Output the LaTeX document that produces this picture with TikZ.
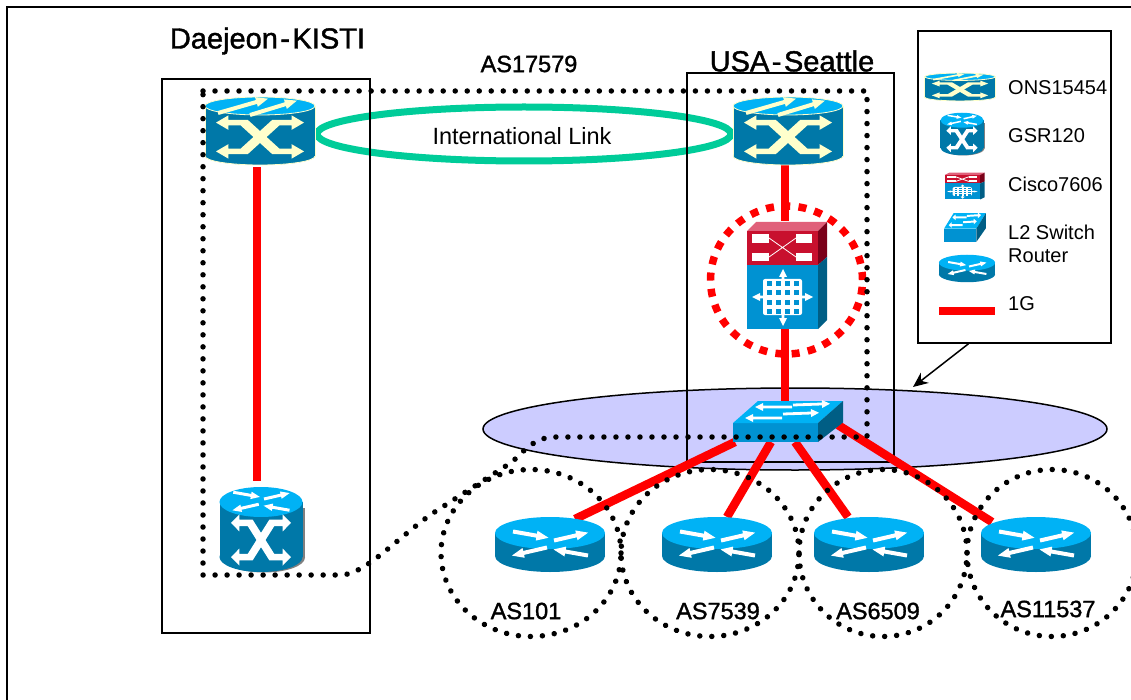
\documentclass[tikz,border=0pt]{standalone}
\usepackage{fontspec}
\setmainfont{Liberation Sans}
\newfontfamily\heavyfont[BoldFont=Liberation Sans, BoldFeatures={FakeBold=1.4}]{Liberation Sans}
\usepackage{tikz}
\usetikzlibrary{shapes.geometric, arrows.meta}

\definecolor{toplight}{HTML}{00B2F5}
\definecolor{bodydark}{HTML}{0078A8}
\definecolor{frontblue}{HTML}{0092D2}
\definecolor{sideblue}{HTML}{005E85}
\definecolor{cream}{HTML}{FFFFCC}
\definecolor{linkgreen}{HTML}{00CC99}
\definecolor{lanfill}{HTML}{CCCCFF}
\definecolor{ciscored}{HTML}{C8102E}
\definecolor{ciscotop}{HTML}{E0607A}
\definecolor{ciscoside}{HTML}{7A0019}

% tail x,y / angle / length / colour
\newcommand{\iconarrow}[4]{\fill[#4, shift={(#1)}, rotate=#2] (0,-1.4) -- ({#3-8},-1.4) -- ({#3-8},-4) -- (#3,0) -- ({#3-8},4) -- ({#3-8},1.4) -- (0,1.4) -- cycle;}
\newcommand{\widearrow}[4]{\fill[#4, shift={(#1)}, rotate=#2] (0,-2) -- ({#3-12},-2) -- ({#3-12},-5) -- (#3,0) -- ({#3-12},5) -- ({#3-12},2) -- (0,2) -- cycle;}
\newcommand{\xstroke}[1]{\fill[#1] (-50,-18) -- (-36,-27) -- (-36,-21.5) -- (-14,-21.5) -- (22,14.5) -- (36,14.5) -- (36,9) -- (50,18) -- (36,27) -- (36,21.5) -- (14,21.5) -- (-22,-14.5) -- (-36,-14.5) -- (-36,-9) -- cycle;}
\newcommand{\xglyph}[1]{\xstroke{#1} \begin{scope}[yscale=-1] \xstroke{#1} \end{scope}}
\newcommand{\toparrows}{
    \widearrow{-37,-13}{-10}{36}{white}
    \widearrow{4,-4}{13}{35}{white}
    \widearrow{-3,3}{193}{36}{white}
    \widearrow{38,11}{170}{35}{white}
}
\newcommand{\gridrow}[1]{
    \fill[frontblue] (-16,#1) rectangle (-11,{#1+5});
    \fill[frontblue] (-7,#1) rectangle (-2,{#1+5});
    \fill[frontblue] (2,#1) rectangle (7,{#1+5});
    \fill[frontblue] (11,#1) rectangle (16,{#1+5});
}

\tikzset{
    iconbox/.style={inner sep=0pt, outer sep=0pt},
    framebox/.style={draw, line width=1.5pt, inner sep=0pt},
    redlink/.style={red, line width=8.5pt},
    dotline/.style={line width=5.5pt, line cap=round, dash pattern=on 0.01pt off 12pt},
    lbl/.style={inner sep=0pt, font=\fontsize{20}{24}\selectfont},
    linklbl/.style={inner sep=0pt, font=\fontsize{23.5}{28}\selectfont},
    aslbl/.style={inner sep=0pt, font=\heavyfont\bfseries\fontsize{23.5}{28}\selectfont},
    titlelbl/.style={inner sep=0pt, font=\heavyfont\bfseries\fontsize{29}{34}\selectfont},
    ascircle/.style={ellipse, dotline, draw, inner sep=0pt},
    pics/onsicon/.style={code={
        \fill[bodydark, draw=cream, line width=.8pt] (-55,-25) rectangle (55,25);
        \fill[bodydark, draw=cream, line width=.8pt] (0,25) ellipse (55 and 9);
        \fill[bodydark] (-54.5,-25) rectangle (54.5,25);
        \fill[toplight, draw=cream, line width=.8pt] (0,-25) ellipse (55 and 9);
        \widearrow{-42,-18}{16}{52}{cream}
        \widearrow{-10,-16}{17}{49}{cream}
        \begin{scope}[shift={(0,6)}, xscale=.88, yscale=.8] \xglyph{cream} \end{scope}
    }},
    pics/gsricon/.style={code={
        \fill[gray] (-38,-22) rectangle (44,28);
        \fill[gray] (3,28) ellipse (41 and 15);
        \fill[bodydark] (-41.5,-27.5) rectangle (41.5,27.5);
        \fill[bodydark] (0,27.5) ellipse (41.5 and 15);
        \fill[toplight] (0,-27.5) ellipse (41.5 and 15);
        \begin{scope}[shift={(0,-27.5)}, scale=.75] \toparrows \end{scope}
        \begin{scope}[shift={(0,10.5)}, xscale=.6, yscale=.95] \xglyph{white} \end{scope}
    }},
    pics/routericon/.style={code={
        \fill[bodydark] (-55,-11.5) rectangle (55,11.5);
        \fill[bodydark] (0,11.5) ellipse (55 and 16);
        \fill[toplight] (0,-11.5) ellipse (55 and 16);
        \toparrows
    }},
    pics/switchicon/.style={code={
        \fill[frontblue] (-55,1.5) rectangle (30,20.5);
        \fill[toplight] (-55,1.5) -- (30,1.5) -- (55,-20.5) -- (-30,-20.5) -- cycle;
        \fill[sideblue] (30,1.5) -- (55,-20.5) -- (55,1) -- (30,20.5) -- cycle;
        \iconarrow{5,-16.5}{2}{37}{white}
        \iconarrow{4,-14.5}{180}{37}{white}
        \iconarrow{-5,-7.5}{2}{36}{white}
        \iconarrow{-6,-3.5}{180}{37}{white}
    }},
    pics/ciscoicon/.style={code={
        \fill[ciscotop] (-39,-44) -- (32,-44) -- (41,-53) -- (-30,-53) -- cycle;
        \fill[ciscored] (-39,-44) rectangle (32,-10);
        \fill[ciscoside] (32,-44) -- (41,-53) -- (41,-18) -- (32,-10) -- cycle;
        \fill[frontblue] (-39,-10) rectangle (32,54);
        \fill[sideblue] (32,-10) -- (41,-18) -- (41,45) -- (32,54) -- cycle;
        \fill[white] (-34,-41) rectangle (-17,-32);
        \fill[white] (-34,-22) rectangle (-17,-14);
        \fill[white] (10,-41) rectangle (26,-32);
        \fill[white] (10,-22) rectangle (26,-14);
        \draw[white, line width=.8pt] (-17,-37) -- (10,-18) (-17,-18) -- (10,-37);
        \begin{scope}[shift={(-3,22)}]
            \iconarrow{0,0}{0}{30}{white}
            \iconarrow{0,0}{180}{31}{white}
            \iconarrow{0,0}{90}{28}{white}
            \iconarrow{0,0}{270}{29}{white}
            \fill[white, rounded corners=2pt] (-20,-18) rectangle (19,18);
            \gridrow{-15.5}
            \gridrow{-6.5}
            \gridrow{2.5}
            \gridrow{11.5}
        \end{scope}
    }},
}

\begin{document}
\begin{tikzpicture}[x=1pt, y=-1pt]
    \useasboundingbox (0,0) rectangle (1131,700);
    \draw[line width=1.5pt] (7,700) -- (7,7) -- (1131,7);

    \node at (795,429) [ellipse, draw, fill=lanfill, line width=1.5pt, inner sep=0pt, minimum width=624pt, minimum height=82pt] (lan) {};
    \node at (524,134) [ellipse, draw=linkgreen, line width=7pt, inner sep=0pt, linklbl, minimum width=414pt, minimum height=54pt] (intl) {};
    \node at (522,136) [linklbl] (intllabel) {International Link};

    \node at (266,356) [framebox, minimum width=208pt, minimum height=554pt] (kistibox) {};
    \node at (790.5,267.5) [framebox, minimum width=207pt, minimum height=389pt] (seattlebox) {};
    \node at (1014.5,187) [framebox, minimum width=193pt, minimum height=312pt] (legend) {};

    \node at (267.5,41) [titlelbl] (kistititle) {Daejeon\hspace{2.5pt}-\hspace{2.5pt}KISTI};
    \node at (792,61) [titlelbl] (seattletitle) {USA\hspace{2.5pt}-\hspace{2.5pt}Seattle};
    \node at (529,64) [aslbl] (aslabel) {AS17579};

    \node at (260,131) [iconbox, minimum width=110pt, minimum height=68pt] (onskr) {};
    \node at (788,131) [iconbox, minimum width=110pt, minimum height=68pt] (onsus) {};
    \node at (261,529.5) [iconbox, minimum width=83pt, minimum height=85pt] (gsrkr) {};
    \node at (786,275) [iconbox, minimum width=80pt, minimum height=107pt] (cisco) {};
    \node at (788,421.5) [iconbox, minimum width=110pt, minimum height=41pt] (sw) {};
    \node at (550,544.5) [iconbox, minimum width=110pt, minimum height=55pt] (r1) {};
    \node at (717,544.5) [iconbox, minimum width=110pt, minimum height=55pt] (r2) {};
    \node at (869,544.5) [iconbox, minimum width=110pt, minimum height=55pt] (r3) {};
    \node at (1036,544.5) [iconbox, minimum width=110pt, minimum height=55pt] (r4) {};

    \draw[redlink] ([xshift=-3pt, yshift=-2pt]onskr.south) -- ([xshift=-4pt, yshift=6pt]gsrkr.north);
    \draw[redlink] ([xshift=-3pt]onsus.south) -- ([xshift=-1pt]cisco.north);
    \draw[redlink] ([xshift=-1pt]cisco.south) -- ([xshift=-3pt]sw.north);
    \draw[redlink] ([xshift=2pt]sw.south west) -- ([xshift=25pt, yshift=-2pt]r1.north);
    \draw[redlink] ([xshift=-17pt]sw.south) -- ([xshift=10pt]r2.north);
    \draw[redlink] ([xshift=7pt]sw.south) -- ([xshift=-21pt]r3.north);
    \draw[redlink] ([xshift=-5pt, yshift=17pt]sw.south east) -- ([xshift=-44pt, yshift=-5pt]r4.north);

    \pic at (onskr) {onsicon};
    \pic at (onsus) {onsicon};
    \pic at (gsrkr) {gsricon};
    \pic at (cisco) {ciscoicon};
    \pic at (sw) {switchicon};
    \pic at (r1) {routericon};
    \pic at (r2) {routericon};
    \pic at (r3) {routericon};
    \pic at (r4) {routericon};

    \node at (786.5,280) [ellipse, draw=red, line width=7.5pt, dash pattern=on 8pt off 8.3pt, inner sep=0pt, minimum width=152pt, minimum height=148pt] (ciscoring) {};

    % AS17579 outline
    \draw[dotline, line join=round] (203,91) -- (867,91) -- (867,437) -- (555,437) .. controls (535,437) and (525,450) .. (512,462) -- (430,515) .. controls (390,545) and (365,573) .. (342,575) -- (203,575) -- cycle;

    \node at (531,553) [ascircle, minimum width=180pt, minimum height=167pt] (as101) {};
    \node at (710,553) [ascircle, minimum width=178pt, minimum height=167pt] (as7539) {};
    \node at (883,553) [ascircle, minimum width=168pt, minimum height=167pt] (as6509) {};
    \node at (1052,553) [ascircle, minimum width=170pt, minimum height=167pt] (as11537) {};
    \node at (526,611) [aslbl] (as101l) {AS101};
    \node at (718,611) [aslbl] (as7539l) {AS7539};
    \node at (878,611) [aslbl] (as6509l) {AS6509};
    \node at (1048,609) [aslbl] (as11537l) {AS11537};

    % legend
    \pic[xscale=.64, yscale=.41] at (960,87) {onsicon};
    \pic[xscale=.52, yscale=.5] at (962,134) {gsricon};
    \pic[xscale=.5, yscale=.25] at (964,186) {ciscoicon};
    \pic[xscale=.38, yscale=.7] at (965,227.5) {switchicon};
    \pic[xscale=.51, yscale=.5] at (967,268.5) {routericon};
    \coordinate (linea) at (939,311);
    \coordinate (lineb) at (995,311);
    \draw[redlink] (linea) -- (lineb);
    \node at (1008,88) [lbl, anchor=west] (leg1) {ONS15454};
    \node at (1008,136) [lbl, anchor=west] (leg2) {GSR120};
    \node at (1008,184) [lbl, anchor=west] (leg3) {Cisco7606};
    \node at (1008,232) [lbl, anchor=west] (leg4) {L2 Switch};
    \node at (1008,256) [lbl, anchor=west] (leg5) {Router};
    \node at (1008,304) [lbl, anchor=west] (leg6) {1G};

    \coordinate (lantip) at (913,387);
    \draw[line width=1.5pt, -{Stealth[length=15pt, width=13pt]}] ([xshift=-46pt]legend.south) -- (lantip);
\end{tikzpicture}
\end{document}
